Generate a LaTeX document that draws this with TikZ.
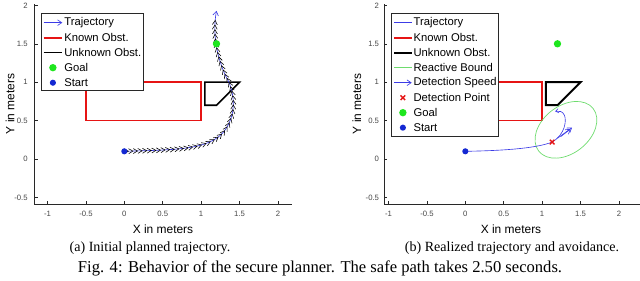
\documentclass[tikz,border=0pt]{standalone}
\usepackage{fontspec}
\setmainfont{Liberation Serif}
\setsansfont{Liberation Sans}
\usetikzlibrary{arrows.meta,decorations.markings}
\definecolor{trajcol}{RGB}{60,60,230}
\definecolor{knowncol}{RGB}{230,20,20}
\definecolor{goalcol}{RGB}{30,230,30}
\definecolor{startcol}{RGB}{20,40,210}
\definecolor{boundcol}{RGB}{110,220,110}
\definecolor{axcol}{RGB}{40,40,40}
\definecolor{tickcol}{RGB}{70,70,70}

\begin{document}
\begin{tikzpicture}[x=1cm,y=1cm,>=Stealth,font=\sffamily,
  axline/.style={axcol,line width=.5pt},
  tickmark/.style={axcol,line width=.4pt},
  ticklab/.style={font=\sffamily\fontsize{5.5}{6.5}\selectfont,tickcol,inner sep=0pt},
  axlab/.style={font=\sffamily\fontsize{8.5}{10}\selectfont,inner sep=0pt},
  legbox/.style={draw=axcol,fill=white,line width=.5pt},
  legtext/.style={anchor=west,font=\sffamily\fontsize{8}{9}\selectfont,inner sep=0pt},
  known/.style={knowncol,line width=1.2pt},
  unknown/.style={black,line width=1.1pt},
  bound/.style={boundcol,line width=.5pt},
  traj/.style={trajcol,line width=.45pt},
  barb/.style={-{Straight Barb[length=3pt,width=4pt]}},
  quiver/.style={trajcol!80,line width=.45pt,decoration={markings,
    mark=between positions 0.02 and 0.97 step 0.02 with {\arrow{Straight Barb[length=3pt,width=3.5pt]}}},decorate},
  goalmk/.style={fill=goalcol},
  startmk/.style={fill=startcol},
  subcapt/.style={font=\fontsize{10}{12}\selectfont,inner sep=0pt},
  capt/.style={font=\fontsize{11.8}{13.5}\selectfont,inner sep=0pt}]
\useasboundingbox (0,0) rectangle (16,7.025);

% (a) initial planned trajectory
\begin{scope}[shift={(3.108cm,3.05cm)},x=1.92cm,y=1.92cm]
\draw[known] (-0.5,0.5) rectangle (1,1);
\draw[unknown] (1.05,1) -- (1.5,1) -- (1.2,0.7) -- (1.05,0.7) -- cycle;
\draw[traj,barb] (0,0.1) .. controls (0.7,0.12) and (1.1,0.12) .. (1.3,0.36)
  .. controls (1.48,0.6) and (1.43,0.9) .. (1.32,1.08)
  .. controls (1.22,1.3) and (1.14,1.6) .. (1.2,1.93);
\path[quiver] (0,0.1) .. controls (0.7,0.12) and (1.1,0.12) .. (1.3,0.36)
  .. controls (1.48,0.6) and (1.43,0.9) .. (1.32,1.08)
  .. controls (1.22,1.3) and (1.14,1.6) .. (1.2,1.93);
\fill[goalmk] (1.2,1.5) circle (0.048);
\fill[startmk] (0,0.1) circle (0.04);
% axes
\draw[axline] (-1.17,2.02) -- (-1.17,-0.59) -- (2.18,-0.59);
\foreach \t [count=\i] in {-1,-0.5,0,0.5,1,1.5,2}{
  \draw[tickmark] (\t,-0.59) -- ++(0,0.04);
  \node[ticklab] (axt\i) at (\t,-0.716) {\t};}
\foreach \t [count=\i] in {-0.5,0,0.5,1,1.5,2}{
  \draw[tickmark] (-1.17,\t) -- ++(0.04,0);
  \node[ticklab,anchor=east] (ayt\i) at (-1.255,\t) {\t};}
% legend
\draw[legbox] (-1.076,0.898) rectangle (0.247,1.897);
\draw[traj,barb] (-1.05,1.775) -- (-0.807,1.775);
\node[legtext] (alegtraj) at (-0.785,1.775) {Trajectory};
\draw[known] (-1.05,1.579) -- (-0.807,1.579);
\node[legtext] (alegknown) at (-0.785,1.579) {Known Obst.};
\draw[unknown] (-1.05,1.384) -- (-0.807,1.384);
\node[legtext] (alegunknown) at (-0.785,1.384) {Unknown Obst.};
\fill[goalmk] (-0.93,1.189) circle (0.048);
\node[legtext] (aleggoal) at (-0.785,1.189) {Goal};
\fill[startmk] (-0.93,0.993) circle (0.04);
\node[legtext] (alegstart) at (-0.785,0.993) {Start};
\end{scope}
\node[axlab,rotate=90] (aylab) at (0.25,4.425) {Y in meters};
\node[axlab] (axlab) at (4.075,1.3) {X in meters};

% (b) realized trajectory and avoidance
\begin{scope}[shift={(11.633cm,3.05cm)},x=1.92cm,y=1.92cm]
\draw[known] (-0.5,0.5) rectangle (1,1);
\draw[unknown,line width=1.4pt] (1.05,1) -- (1.5,1) -- (1.2,0.7) -- (1.05,0.7) -- cycle;
\draw[bound,rotate around={38:(1.31,0.38)}] (1.31,0.38) ellipse [x radius=0.45,y radius=0.31];
\draw[traj] (0,0.1) .. controls (0.6,0.11) and (0.95,0.15) .. (1.13,0.22);
\draw[traj,-{Straight Barb[length=2pt,width=3pt]}] (1.13,0.22) .. controls (1.3,0.32) and (1.32,0.5) .. (1.29,0.57)
  .. controls (1.27,0.62) and (1.22,0.63) .. (1.17,0.62);
\draw[traj,barb] (1.2,0.27) -- (1.39,0.41);
\draw[traj,barb] (1.24,0.29) -- (1.37,0.39);
\coordinate (det) at (1.13,0.22);
\draw[knowncol,line width=1pt] (det) +(-0.03,-0.03) -- +(0.03,0.03) (det) +(-0.03,0.03) -- +(0.03,-0.03);
\fill[goalmk] (1.2,1.5) circle (0.048);
\fill[startmk] (0,0.1) circle (0.04);
% axes
\draw[axline] (-1.06,2.02) -- (-1.06,-0.59) -- (2.28,-0.59);
\foreach \t [count=\i] in {-1,-0.5,0,0.5,1,1.5,2}{
  \draw[tickmark] (\t,-0.59) -- ++(0,0.04);
  \node[ticklab] (bxt\i) at (\t,-0.716) {\t};}
\foreach \t [count=\i] in {-0.5,0,0.5,1,1.5,2}{
  \draw[tickmark] (-1.06,\t) -- ++(0.04,0);
  \node[ticklab,anchor=east] (byt\i) at (-1.12,\t) {\t};}
% legend
\draw[legbox] (-0.958,0.30) rectangle (0.43,1.897);
\draw[traj] (-0.928,1.775) -- (-0.698,1.775);
\node[legtext] (blegtraj) at (-0.677,1.775) {Trajectory};
\draw[known] (-0.928,1.579) -- (-0.698,1.579);
\node[legtext] (blegknown) at (-0.677,1.579) {Known Obst.};
\draw[unknown,line width=1.4pt] (-0.928,1.384) -- (-0.698,1.384);
\node[legtext] (blegunknown) at (-0.677,1.384) {Unknown Obst.};
\draw[bound] (-0.928,1.189) -- (-0.698,1.189);
\node[legtext] (blegbound) at (-0.677,1.189) {Reactive Bound};
\draw[traj,barb] (-0.928,0.993) -- (-0.698,0.993);
\node[legtext] (blegspeed) at (-0.677,0.993) {Detection Speed};
\coordinate (legdet) at (-0.813,0.798);
\draw[knowncol,line width=1pt] (legdet) +(-0.03,-0.03) -- +(0.03,0.03) (legdet) +(-0.03,0.03) -- +(0.03,-0.03);
\node[legtext] (blegdet) at (-0.677,0.798) {Detection Point};
\fill[goalmk] (-0.813,0.603) circle (0.048);
\node[legtext] (bleggoal) at (-0.677,0.603) {Goal};
\fill[startmk] (-0.813,0.408) circle (0.04);
\node[legtext] (blegstart) at (-0.677,0.408) {Start};
\end{scope}
\node[axlab,rotate=90] (bylab) at (8.92,4.425) {Y in meters};
\node[axlab] (bxlab) at (12.775,1.3) {X in meters};

% captions
\node[subcapt] (capa) at (3.75,0.825) {(a) Initial planned trajectory.};
\node[subcapt] (capb) at (12.8,0.825) {(b) Realized trajectory and avoidance.};
\node[capt] (capfig) at (8,0.325) {Fig. 4: Behavior of the secure planner. The safe path takes 2.50 seconds.};
\end{tikzpicture}
\end{document}
